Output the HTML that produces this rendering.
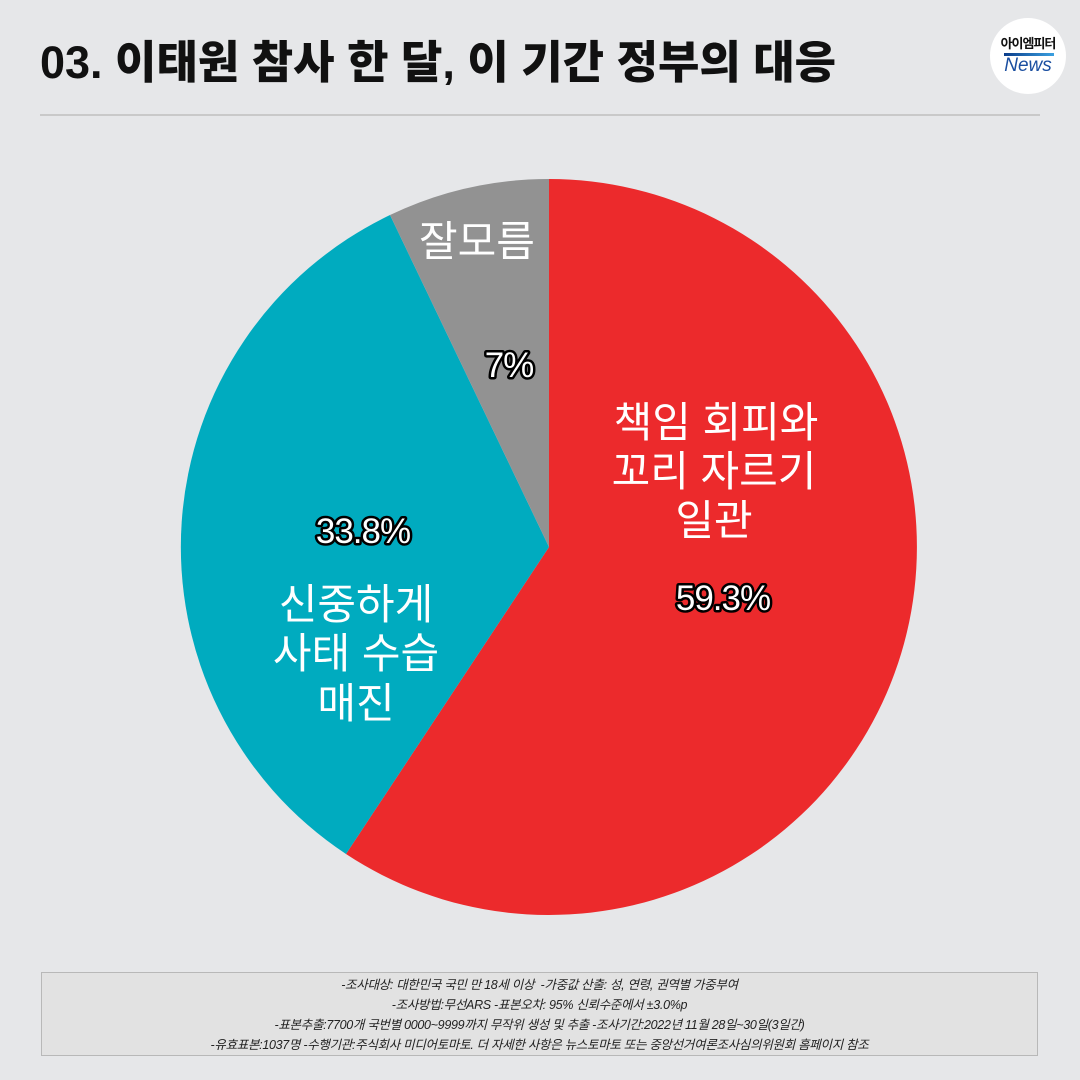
<!DOCTYPE html>
<html><head><meta charset="utf-8"><style>
html,body{margin:0;padding:0;}
body{width:1080px;height:1080px;background:#e6e7e9;position:relative;overflow:hidden;font-family:"Liberation Sans","Noto Sans CJK KR",sans-serif;}
.title{position:absolute;left:40px;top:26px;font-size:45px;font-weight:900;color:#111;letter-spacing:0px;white-space:nowrap;}
.rule{position:absolute;left:40px;top:114px;width:1000px;height:2px;background:#c9c9c9;}
.logo{position:absolute;left:990px;top:18px;width:76px;height:76px;border-radius:50%;background:#fff;}
.logo .k{position:absolute;left:0;width:76px;top:15px;text-align:center;font-size:13px;font-weight:bold;color:#111;letter-spacing:-1px;}
.logo .bar{position:absolute;left:14px;top:35px;width:50px;height:3px;background:linear-gradient(90deg,#0a3c8a,#3aa0e0);}
.logo .n{position:absolute;left:0;width:76px;top:37px;text-align:center;font-size:19px;font-style:italic;color:#1a4ea0;}
.foot{position:absolute;left:41px;top:972px;width:997px;height:84px;border:1px solid #b8b8b8;background:#e2e2e2;text-align:center;font-size:12.5px;font-style:italic;color:#222;line-height:20px;padding-top:2px;box-sizing:border-box;letter-spacing:-0.3px;}
</style></head><body>
<div class="title">03. 이태원 참사 한 달, 이 기간 정부의 대응</div>
<div class="logo"><div class="k">아이엠피터</div><div class="bar"></div><div class="n">News</div></div>
<div class="rule"></div>
<svg width="1080" height="1080" style="position:absolute;left:0;top:0" font-family="'Liberation Sans','Noto Sans CJK KR',sans-serif">
<path d="M549,547 L549,179 A368,368 0 1 1 346,854 Z" fill="#ec2a2c"/>
<path d="M549,547 L346,854 A368,368 0 0 1 390,215 Z" fill="#00abbf"/>
<path d="M549,547 L390,215 A368,368 0 0 1 549,179 Z" fill="#929292"/>
<g fill="#fff" font-size="42" text-anchor="middle">
<text x="716" y="437">책임 회피와</text>
<text x="714" y="486">꼬리 자르기</text>
<text x="714" y="535">일관</text>
<text x="356" y="619">신중하게</text>
<text x="356" y="668">사태 수습</text>
<text x="356" y="718">매진</text>
<text x="477" y="256">잘모름</text>
</g>
<g fill="#fff" stroke="#000" stroke-width="5" paint-order="stroke" stroke-linejoin="round" font-size="35" text-anchor="middle" letter-spacing="-1">
<text x="509" y="377">7%</text>
<text x="363" y="543">33.8%</text>
<text x="723" y="610">59.3%</text>
</g>
</svg>
<div class="foot">-조사대상: 대한민국 국민 만 18세 이상 &nbsp;-가중값 산출: 성, 연령, 권역별 가중부여<br>-조사방법:무선ARS -표본오차: 95% 신뢰수준에서 ±3.0%p<br>-표본추출:7700개 국번별 0000~9999까지 무작위 생성 및 추출 -조사기간:2022년 11월 28일~30일(3일간)<br>-유효표본:1037명 -수행기관:주식회사 미디어토마토. 더 자세한 사항은 뉴스토마토 또는 중앙선거여론조사심의위원회 홈페이지 참조</div>
</body></html>
